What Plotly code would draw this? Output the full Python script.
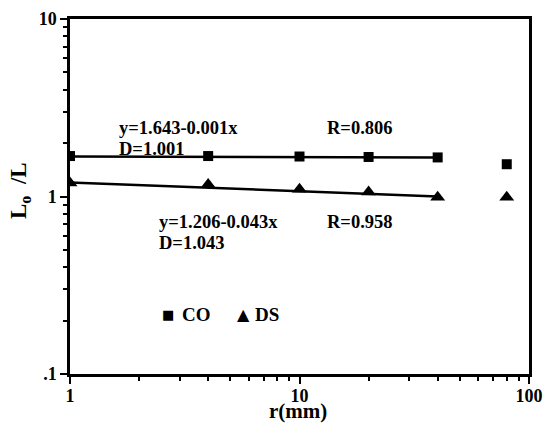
import plotly.graph_objects as go

# Data
r_co = [1, 4, 10, 20, 40, 80]
co_vals = [1.69, 1.69, 1.68, 1.67, 1.66, 1.52]
r_ds = [1, 4, 10, 20, 40, 80]
ds_vals = [1.19, 1.17, 1.10, 1.06, 0.99, 0.99]

# regression line endpoints as read
fit_r = [1, 40]
co_fit = [1.68, 1.66]
ds_fit = [1.20, 1.00]

x_tickvals = [1, 10, 100]
x_ticktext = ["1", "10", "100"]
y_tickvals = [0.1, 1, 10]
y_ticktext = [".1", "1", "10"]
x_minor = [2, 3, 4, 5, 6, 7, 8, 9, 20, 30, 40, 50, 60, 70, 80, 90]
y_minor = [0.2, 0.3, 0.4, 0.5, 0.6, 0.7, 0.8, 0.9, 2, 3, 4, 5, 6, 7, 8, 9]

FONT = "Liberation Serif"

fig = go.Figure()
fig.add_trace(go.Scatter(x=fit_r, y=co_fit, mode="lines", line=dict(color="black", width=2.5),
                         showlegend=False, hoverinfo="skip"))
fig.add_trace(go.Scatter(x=fit_r, y=ds_fit, mode="lines", line=dict(color="black", width=2.5),
                         showlegend=False, hoverinfo="skip"))
fig.add_trace(go.Scatter(x=r_co, y=co_vals, mode="markers", name="CO", showlegend=False,
                         marker=dict(symbol="square", size=10, color="black")))
fig.add_trace(go.Scatter(x=r_ds, y=ds_vals, mode="markers", name="DS", showlegend=False,
                         marker=dict(symbol="triangle-up", size=13, color="black")))

L, R, T, B = 70, 17, 19, 49
W, H = 546, 423
pw, ph = W - L - R, H - T - B

def px(x):
    return (x - L) / pw

def py(y):
    return (H - B - y) / ph

texts = [
    ("y=1.643-0.001x", 117, 128, 18.5),
    ("R=0.806", 325, 128, 18.5),
    ("D=1.001", 117, 149, 18.5),
    ("y=1.206-0.043x", 157, 222, 18.5),
    ("R=0.958", 325, 222, 18.5),
    ("D=1.043", 157, 243, 18.5),
    ("CO", 180, 314, 19),
    ("DS", 253, 314, 19),
]
annotations = []
for t, x, y, s in texts:
    annotations.append(dict(text="<b>" + t + "</b>", x=px(x), y=py(y), xref="paper", yref="paper",
                            xanchor="left", yanchor="middle", showarrow=False,
                            font=dict(family=FONT, size=s, color="black")))
# legend symbols
for sym, x, y, s in [("■", 168, 314, 13), ("▲", 243, 314, 16)]:
    annotations.append(dict(text=sym, x=px(x), y=py(y), xref="paper", yref="paper",
                            xanchor="center", yanchor="middle", showarrow=False,
                            font=dict(family="DejaVu Sans", size=s, color="black")))

# axis titles placed as annotations
annotations.append(dict(text="<b>L<sub>o</sub>  /L</b>", x=px(20), y=py(191), xref="paper", yref="paper",
                        xanchor="center", yanchor="middle", showarrow=False, textangle=-90,
                        font=dict(family=FONT, size=23, color="black")))
annotations.append(dict(text="<b>r(mm)</b>", x=px(298), y=py(425), xref="paper", yref="paper",
                        xanchor="center", yanchor="bottom", showarrow=False,
                        font=dict(family=FONT, size=21, color="black")))

axis_common = dict(
    type="log", showline=True, linewidth=2.5, linecolor="black", mirror=True,
    ticks="outside", ticklen=7, tickwidth=2, tickcolor="black", showgrid=False,
    zeroline=False, automargin=False, tickfont=dict(family=FONT, size=18, color="black"),
)

fig.update_layout(
    width=W, height=H,
    margin=dict(l=L, r=R, t=T, b=B),
    paper_bgcolor="white", plot_bgcolor="white",
    xaxis=dict(range=[0, 2], tickvals=x_tickvals, ticktext=["<b>%s</b>" % s for s in x_ticktext],
               minor=dict(tickvals=x_minor, ticks="outside", ticklen=4, tickwidth=2, tickcolor="black"),
               ticklabelstandoff=-3,
               **axis_common),
    yaxis=dict(range=[-1, 1], tickvals=y_tickvals, ticktext=["<b>%s</b>" % s for s in y_ticktext],
               minor=dict(tickvals=y_minor, ticks="outside", ticklen=4, tickwidth=2, tickcolor="black"),
               **axis_common),
    showlegend=False,
    annotations=annotations,
)

fig.write_html("out.html", config={"displayModeBar": False},
               post_script="document.body.style.margin='0';document.body.style.overflow='hidden';")
